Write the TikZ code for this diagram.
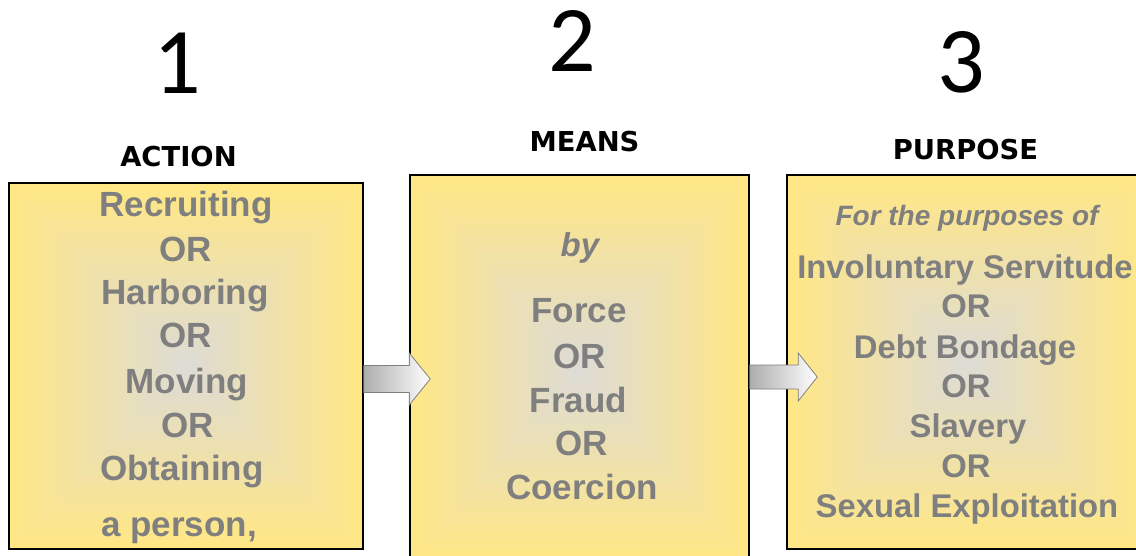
\documentclass[tikz,border=0pt]{standalone}
\usepackage{fontspec}
\setmainfont{Liberation Sans}
\newfontfamily\numfont{Carlito}
\newfontfamily\headfont{DejaVu Sans}
\usetikzlibrary{calc}
\definecolor{yel}{HTML}{FFE785}
\definecolor{ctr}{HTML}{DEDBD4}
\definecolor{txtgrey}{HTML}{7F7F7F}
\newcommand\gradfill[4]{%
  \foreach \i in {0,...,24}{%
    \pgfmathsetmacro\s{1-\i/25}%
    \pgfmathsetmacro\p{100*\i/24}%
    \fill[ctr!\p!yel] ({#1-\s*#3/2},{#2-\s*#4/2}) rectangle ({#1+\s*#3/2},{#2+\s*#4/2});
  }}
\begin{document}
\begin{tikzpicture}[x=1pt,y=-1pt,
  box/.style={draw=black, line width=1.5pt, fill=none, inner sep=0pt},
  num/.style={font=\numfont\fontsize{94}{94}\selectfont, anchor=base, inner sep=0pt},
  head/.style={font=\headfont\bfseries\fontsize{27.4}{28}\selectfont, anchor=base, inner sep=0pt},
  itm/.style={font=\bfseries\fontsize{35}{36}\selectfont, text=txtgrey, anchor=base, inner sep=0pt},
  itmc/.style={font=\bfseries\fontsize{32.8}{34}\selectfont, text=txtgrey, anchor=base, inner sep=0pt},
  itl/.style={font=\bfseries\itshape\fontsize{#1}{#1}\selectfont, text=txtgrey, anchor=base, inner sep=0pt},
  arrowshade/.style={left color=black!32, right color=white, draw=black!50, line width=0.8pt, line join=miter}
]
\useasboundingbox (0,0) rectangle (1136,556);
\clip (0,0) rectangle (1136,556);
\fill[white] (0,0) rectangle (1136,556);

% gradients
\gradfill{186}{366}{354}{366}
\gradfill{579.5}{368.5}{339}{387}
\gradfill{967}{362}{360}{374}

% boxes
\node[box, minimum width=354pt, minimum height=366pt] (box1) at (186,366) {};
\node[box, minimum width=339pt, minimum height=387pt] (box2) at (579.5,368.5) {};
\node[box, minimum width=360pt, minimum height=374pt] (box3) at (967,362) {};

% numbers
\node[num] (n1) at (177.5,94) {1};
\node[num] (n2) at (572,72) {2};
\node[num] (n3) at (961,93) {3};

% headers
\node[head] (h1) at (178.5,167) {ACTION};
\node[head] (h2) at (584.5,152) {MEANS};
\node[head] (h3) at (965.5,160) {PURPOSE};

% box 1 text
\node[itm] (t11) at (186,217) {Recruiting};
\node[itm] (t12) at (186,262) {OR};
\node[itm] (t13) at (185,305) {Harboring};
\node[itm] (t14) at (186,348) {OR};
\node[itm] (t15) at (187,393) {Moving};
\node[itm] (t16) at (188,437) {OR};
\node[itm] (t17) at (182,480) {Obtaining};
\node[itm] (t18) at (179,536) {a person,};

% box 2 text
\node[itl=33] (t21) at (580,257) {by};
\node[itm] (t22) at (579,323) {Force};
\node[itm] (t23) at (580,368) {OR};
\node[itm] (t24) at (578.5,412) {Fraud};
\node[itm] (t25) at (582,455) {OR};
\node[itm] (t26) at (582,499) {Coercion};

% box 3 text
\node[itl=28] (t31) at (967,226) {For the purposes of};
\node[itmc] (t32) at (965,279) {Involuntary Servitude};
\node[itmc] (t33) at (966,318) {OR};
\node[itmc] (t34) at (965,358) {Debt Bondage};
\node[itmc] (t35) at (966,397) {OR};
\node[itmc] (t36) at (968,437) {Slavery};
\node[itmc] (t37) at (966,477) {OR};
\node[itmc] (t38) at (967,517) {Sexual Exploitation};

% arrows
\coordinate (s1) at ($(box1.east)+(0,13)$);
\coordinate (e1) at (s1 -| box2.west);
\shade[arrowshade] ($(s1)+(0,-13.5)$) -- ($(e1)+(0,-13.5)$) -- ($(e1)+(0,-26)$) -- ($(e1)+(21,0)$) -- ($(e1)+(0,26)$) -- ($(e1)+(0,13.5)$) -- ($(s1)+(0,13.5)$) -- cycle;

\coordinate (s2) at ($(box2.east)+(0,8.5)$);
\coordinate (e2) at ($(s2 -| box3.west)+(12,0)$);
\shade[arrowshade] ($(s2)+(0,-12)$) -- ($(e2)+(0,-12)$) -- ($(e2)+(0,-24)$) -- ($(e2)+(19,0)$) -- ($(e2)+(0,24)$) -- ($(e2)+(0,12)$) -- ($(s2)+(0,12)$) -- cycle;
\end{tikzpicture}
\end{document}
